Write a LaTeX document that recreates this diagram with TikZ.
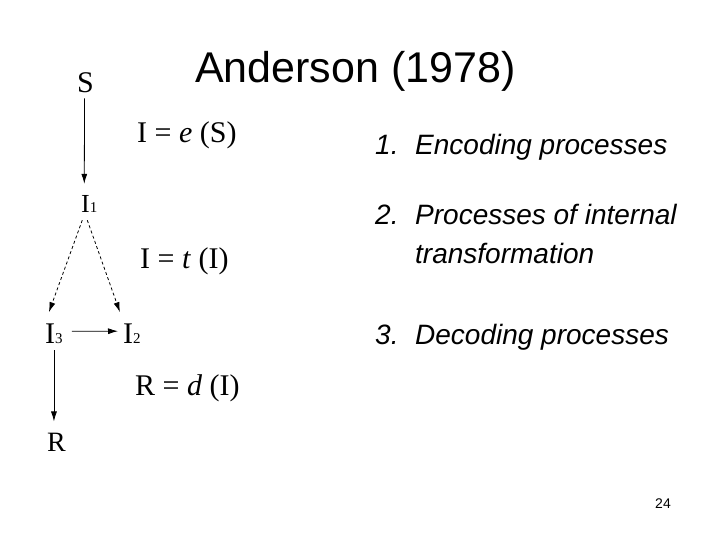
\documentclass[tikz,border=0pt]{standalone}
\usepackage{fontspec}
\setmainfont{Liberation Serif}
\setsansfont{Liberation Sans}
\usetikzlibrary{arrows.meta}
\newcommand{\fsz}[1]{\fontsize{#1}{#1}\selectfont}
\begin{document}
\begin{tikzpicture}[x=1pt,y=-1pt,
  lbl/.style={inner sep=0pt,anchor=base west,font=\fsz{30}},
  sym/.style={inner sep=0pt,anchor=base west},
  item/.style={inner sep=0pt,anchor=base west,font=\fsz{28}\sffamily\itshape},
  arr/.style={line width=0.8pt,-{Latex[length=10pt,width=6pt]}},
  darr/.style={arr,dash pattern=on 3pt off 2.5pt}]
\useasboundingbox (0,0) rectangle (720,540);
\fill[white] (0,0) rectangle (720,540);
% title
\node[inner sep=0pt,anchor=base west,font=\fsz{43}\sffamily] (title) at (195,83) {Anderson (1978)};
% graph nodes
\node[sym,font=\fsz{30}] (S) at (77,93) {S};
\node[sym] (I1) at (81,212) {{\fsz{26}I}{\fsz{15}1}};
\node[sym] (I3) at (45,343) {{\fsz{30}I}{\fsz{15}3}};
\node[sym] (I2) at (123,343) {{\fsz{30}I}{\fsz{15}2}};
\node[sym,font=\fsz{28}] (R) at (47,451) {R};
% equations
\node[lbl] (eqe) at (137,143) {I = \textit{e} (S)};
\node[lbl] (eqt) at (140,268) {I = \textit{t} (I)};
\node[lbl] (eqd) at (135,395) {R = \textit{d} (I)};
% connectors
\draw[arr] ([xshift=-1pt,yshift=-5pt]S.south) -- ([xshift=-5pt,yshift=11pt]I1.north);
\draw[darr] ([xshift=-7pt,yshift=-8pt]I1.south) -- ([xshift=-5pt,yshift=11pt]I3.north);
\draw[darr] ([xshift=-2pt,yshift=-8pt]I1.south) -- ([xshift=-12pt,yshift=11pt]I2.north);
\draw[arr,shorten <=9pt,shorten >=5pt] ([yshift=2pt]I3.east) -- ([yshift=2pt]I2.west);
\draw[arr] ([yshift=-7pt]I3.south) -- ([yshift=11pt]I3.south |- R.north);
% list
\node[item] (n1) at (375,155) {1.};
\node[item] (t1) at (415,155) {Encoding processes};
\node[item] (n2) at (375,225) {2.};
\node[item] (t2) at (415,225) {Processes of internal};
\node[item] (t2b) at (415,263) {transformation};
\node[item] (n3) at (375,344) {3.};
\node[item] (t3) at (415,344) {Decoding processes};
% page number
\node[inner sep=0pt,anchor=base east,font=\fsz{14}\sffamily] (pg) at (671,508) {24};
\end{tikzpicture}
\end{document}
